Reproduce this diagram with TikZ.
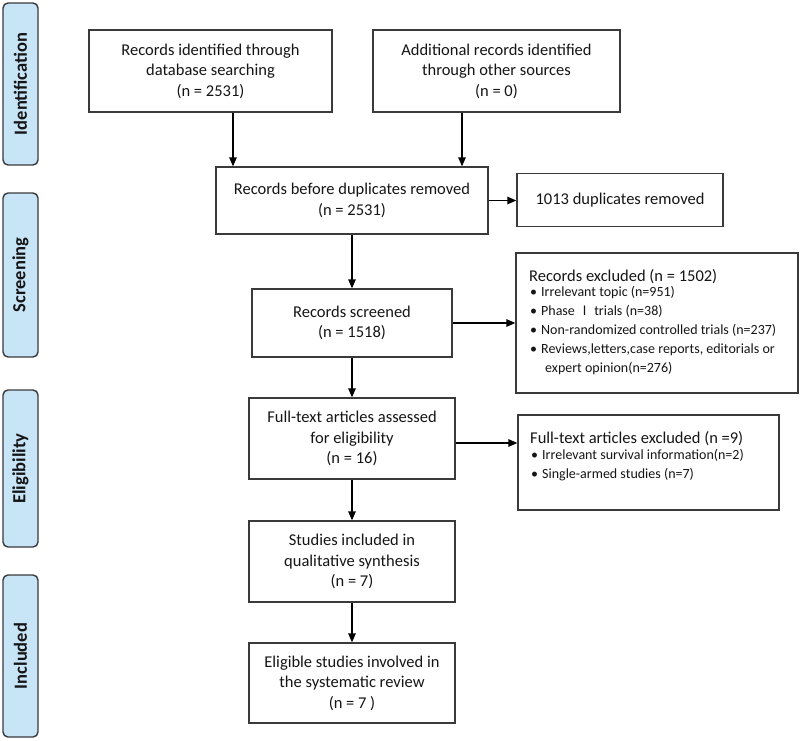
\documentclass[tikz,border=0pt]{standalone}
\usepackage{fontspec}
\setmainfont{Carlito}
\newfontfamily\cjkfont{Noto Sans CJK SC}
\usetikzlibrary{arrows.meta}
\definecolor{phasefill}{HTML}{C8E4F7}
\definecolor{edgecol}{HTML}{3A3A3A}
\definecolor{ink}{HTML}{151515}
\begin{document}
\begin{tikzpicture}[x=1bp,y=-1bp]
\tikzset{
  box/.style={draw=edgecol, line width=1.4bp, fill=white, align=center, text=ink,
    font=\fontsize{16.5bp}{20.5bp}\selectfont, inner sep=0pt},
  phase/.style={draw=edgecol, line width=1.4bp, fill=phasefill, rounded corners=5bp,
    rotate=90, minimum height=35bp, text=ink, inner sep=0pt,
    font=\bfseries\fontsize{18.5bp}{22bp}\selectfont},
  arr/.style={-{Triangle[length=9bp,width=7.5bp]}, line width=1.4bp, draw=black},
  listtxt/.style={align=left, anchor=north west, inner sep=0pt, text=ink,
    font=\fontsize{14bp}{19bp}\selectfont},
}
\useasboundingbox (0,0) rectangle (800,741);

% phase labels
\node[phase, minimum width=162bp] (pid) at (20.5,84) {Identification};
\node[phase, minimum width=164bp] (psc) at (20.5,275) {Screening};
\node[phase, minimum width=157bp] (pel) at (20.5,468.5) {Eligibility};
\node[phase, minimum width=162bp] (pin) at (20.5,656) {Included};

% main boxes
\node[box, minimum width=243bp, minimum height=82bp] (rid) at (210.5,71)
  {Records identified through\\database searching\\(n = 2531)};
\node[box, minimum width=247bp, minimum height=82bp] (add) at (496.5,71)
  {Additional records identified\\through other sources\\(n = 0)};
\node[box, minimum width=272bp, minimum height=67bp] (dup) at (352,200.5)
  {Records before duplicates removed\\(n = 2531)};
\node[box, minimum width=206bp, minimum height=53bp] (dupr) at (620,200)
  {1013 duplicates removed};
\node[box, minimum width=200bp, minimum height=68bp] (scr) at (352,323)
  {Records screened\\(n = 1518)};
\node[box, minimum width=282bp, minimum height=140bp] (excl) at (657,323) {};
\node[box, minimum width=206bp, minimum height=81bp] (full) at (352,438.5)
  {Full-text articles assessed\\for eligibility\\(n = 16)};
\node[box, minimum width=261bp, minimum height=95bp] (fexcl) at (648.5,462.5) {};
\node[box, minimum width=206bp, minimum height=81bp] (qual) at (352,561.5)
  {Studies included in\\qualitative synthesis\\(n = 7)};
\node[box, minimum width=206bp, minimum height=80bp] (elig) at (352,683)
  {Eligible studies involved in\\the systematic review\\(n = 7 )};

% list texts
\node[listtxt] (excltxt) at (529,269.5)
  {{\fontsize{16.5bp}{19bp}\selectfont Records excluded (n = 1502)}\\[-4bp]
   \hspace{1bp}\makebox[11bp][l]{\textbullet}Irrelevant topic (n=951)\\
   \hspace{1bp}\makebox[11bp][l]{\textbullet}Phase {\cjkfont\fontsize{13bp}{19bp}\selectfont Ⅰ} trials (n=38)\\
   \hspace{1bp}\makebox[11bp][l]{\textbullet}Non-randomized controlled trials (n=237)\\
   \hspace{1bp}\makebox[11bp][l]{\textbullet}Reviews,letters,case reports, editorials or\\
   \hspace{16bp}expert opinion(n=276)};
\node[listtxt] (fexcltxt) at (530,431.5)
  {{\fontsize{16.5bp}{19bp}\selectfont Full-text articles excluded (n =9)}\\[-3bp]
   \hspace{1bp}\makebox[11bp][l]{\textbullet}Irrelevant survival information(n=2)\\
   \hspace{1bp}\makebox[11bp][l]{\textbullet}Single-armed studies (n=7)};

% connectors
\coordinate (ca) at (233,0);
\coordinate (cb) at (462,0);
\draw[arr] (rid.south -| ca) -- (dup.north -| ca);
\draw[arr] (add.south -| cb) -- (dup.north -| cb);
\draw[arr] (dup.east) -- (dup.east -| dupr.west);
\draw[arr] (dup.south) -- (scr.north);
\draw[arr] (scr.east) -- (scr.east -| excl.west);
\draw[arr] (scr.south) -- (full.north);
\draw[arr] ([yshift=-4.5bp]full.east) -- ([yshift=-4.5bp]full.east -| fexcl.west);
\draw[arr] (full.south) -- (qual.north);
\draw[arr] (qual.south) -- (elig.north);
\end{tikzpicture}
\end{document}
